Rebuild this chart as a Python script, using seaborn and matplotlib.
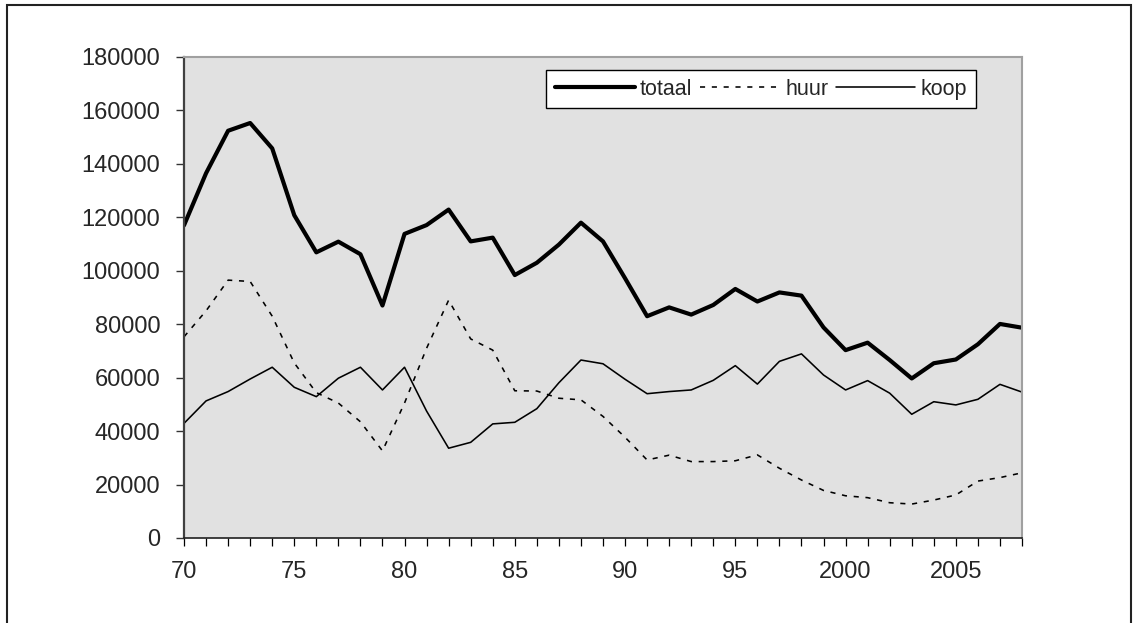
import matplotlib
matplotlib.use("Agg")
import matplotlib.pyplot as plt
from matplotlib.patches import Rectangle
import seaborn as sns
import numpy as np

# Woningproductie per jaar: totaal, huur en koop
years = list(range(1970, 2009))

totaal = [117000, 136500, 152400, 155300, 145800, 120800, 106900, 110900, 106200, 87000,
          113800, 117100, 122900, 111000, 112400, 98400, 103000, 109800, 118000, 111000,
          97200, 83000, 86300, 83600, 87200, 93200, 88500, 91900, 90700, 78800,
          70300, 73100, 66600, 59700, 65400, 66800, 72500, 80100, 78700]

huur = [75300, 85000, 96500, 96000, 83000, 65500, 54400, 50500, 43500, 32600,
        50500, 71000, 89000, 74500, 70300, 55100, 55000, 52300, 51700, 45500,
        37700, 29200, 31000, 28600, 28600, 28900, 31100, 26100, 21700, 17800,
        15800, 15100, 13200, 12700, 14200, 16100, 21300, 22600, 24400]

koop = [42900, 51300, 54800, 59500, 63900, 56400, 52900, 59800, 63900, 55400,
        63900, 47500, 33600, 35800, 42700, 43300, 48400, 58100, 66600, 65200,
        59400, 54000, 54800, 55400, 59000, 64500, 57600, 66100, 68900, 61000,
        55400, 58900, 54200, 46300, 51000, 49800, 51900, 57500, 54600]

y_ticks = list(range(0, 180001, 20000))
x_tick_labels = {1970: "70", 1975: "75", 1980: "80", 1985: "85",
                 1990: "90", 1995: "95", 2000: "2000", 2005: "2005"}

sns.set_style("white")
plt.rcParams["font.family"] = ["Liberation Sans", "DejaVu Sans"]

W, H = 1134, 623
fig = plt.figure(figsize=(W / 100, H / 100), dpi=100)
ax = fig.add_axes([184 / W, (H - 538) / H, 838 / W, 481 / H])
ax.set_facecolor("#e1e1e1")

sns.lineplot(x=years, y=totaal, ax=ax, color="black", linewidth=3.0, label="totaal")
sns.lineplot(x=years, y=huur, ax=ax, color="black", linewidth=1.15,
             linestyle=(0, (3.2, 4.2)), label="huur")
sns.lineplot(x=years, y=koop, ax=ax, color="black", linewidth=1.15, label="koop")

ax.set_xlim(1970, 2008)
ax.set_ylim(0, 180000)
ax.set_yticks(y_ticks)
ax.set_yticklabels([str(v) for v in y_ticks])
ax.set_xticks(years)
ax.set_xticklabels([x_tick_labels.get(y, "") for y in years])
ax.set_xlabel("")
ax.set_ylabel("")

ax.tick_params(axis="y", direction="out", length=6, width=1, color="#333333",
               labelsize=17, pad=11, left=True)
ax.tick_params(axis="x", direction="out", length=5.5, width=0.9, color="black",
               labelsize=17, pad=11, bottom=True)

for side in ("top", "right"):
    ax.spines[side].set_color("#a0a0a0")
    ax.spines[side].set_linewidth(1.5)
ax.spines["left"].set_color("#404040")
ax.spines["left"].set_linewidth(1.6)
ax.spines["bottom"].set_color("#202020")
ax.spines["bottom"].set_linewidth(1.2)

leg = ax.legend(loc="upper right", bbox_to_anchor=(0.945, 0.973), ncol=3,
                frameon=True, fancybox=False, fontsize=15.5, handlelength=3.7,
                handletextpad=0.25, columnspacing=0.35, borderpad=0.4,
                borderaxespad=0)
leg.get_frame().set_facecolor("white")
leg.get_frame().set_edgecolor("black")
leg.get_frame().set_linewidth(1.0)
leg.get_frame().set_alpha(1)

# outer frame around the chart
fig.add_artist(Rectangle((7 / W, -0.1), (1131 - 7) / W, 1 - 5 / H + 0.1,
                         transform=fig.transFigure, fill=False,
                         edgecolor="#222222", linewidth=1.5, clip_on=False))

fig.savefig("out.png", dpi=100, facecolor="white")
